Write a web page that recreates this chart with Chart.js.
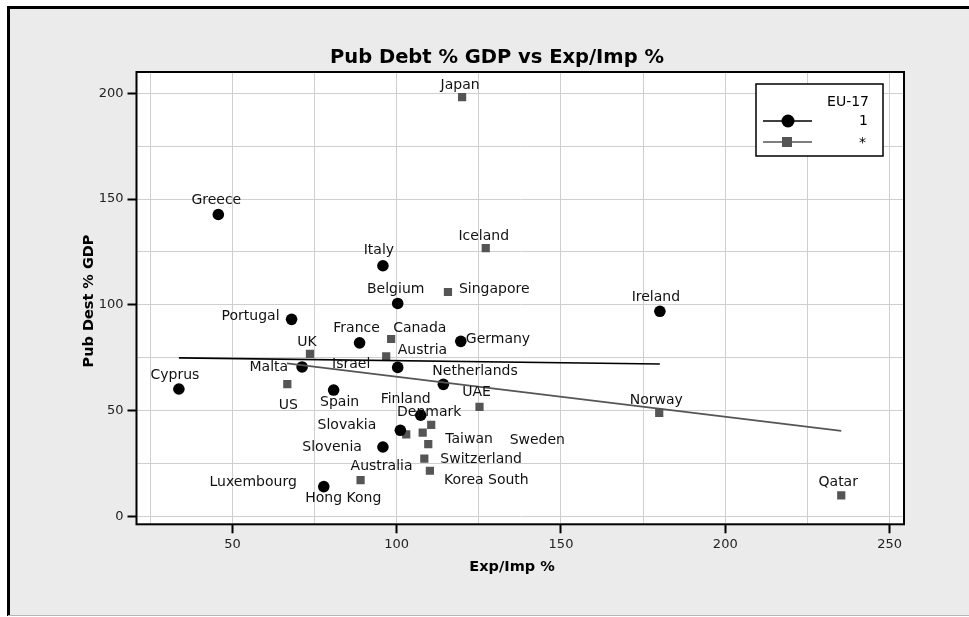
<!DOCTYPE html>
<html>
<head>
<meta charset="utf-8">
<script src="https://cdn.jsdelivr.net/npm/chart.js@4/dist/chart.umd.min.js"></script>
<style>
  html, body { margin: 0; padding: 0; background: #ffffff; }
  #wrap { width: 969px; height: 617px; }
</style>
</head>
<body>
<div id="wrap"><canvas id="c" width="969" height="617"></canvas></div>
<script>
// Euro area (EU-17) members: exports/imports % and public debt % of GDP
const euNames   = ['Greece', 'Cyprus', 'Portugal', 'Italy', 'Belgium', 'Ireland', 'France', 'Germany',
                   'Malta', 'Austria', 'Netherlands', 'Spain', 'Finland', 'Slovakia', 'Slovenia', 'Luxembourg'];
const euExpImp  = [45.7, 33.7, 68.0, 95.8, 100.3, 180.1, 88.7, 119.5, 71.2, 100.3, 114.2, 80.8, 107.3, 101.1, 95.8, 77.8];
const euDebt    = [142.7, 60.3, 93.2, 118.5, 100.7, 97.0, 82.1, 82.8, 70.7, 70.5, 62.5, 59.8, 47.9, 40.8, 32.9, 14.2];

// Other economies
const otherNames  = ['Japan', 'Iceland', 'Singapore', 'UK', 'US', 'Canada', 'Israel', 'UAE', 'Norway', 'Qatar',
                     'Denmark', 'Sweden', 'Taiwan', 'Hong Kong', 'Switzerland', 'Korea South', 'Australia'];
const otherExpImp = [119.9, 127.1, 115.6, 73.6, 66.7, 98.3, 96.8, 125.2, 179.9, 235.3,
                     110.5, 107.9, 109.6, 102.9, 108.4, 110.1, 89.0];
const otherDebt   = [198.1, 126.8, 106.1, 76.9, 62.6, 83.9, 75.7, 51.9, 49.0, 10.1,
                     43.4, 39.7, 34.3, 38.9, 27.4, 21.7, 17.3];

// Linear fit lines, one per group (end points)
const euFitX    = [33.7, 180.1];
const euFitY    = [75.0, 72.1];
const otherFitX = [66.6, 235.3];
const otherFitY = [72.4, 40.5];

// Grid positions and the ones that carry a label
const xGridValues = [25, 50, 75, 100, 125, 150, 175, 200, 225, 250];
const yGridValues = [0, 25, 50, 75, 100, 125, 150, 175, 200];
const xTickLabels = [50, 100, 150, 200, 250];
const yTickLabels = [0, 50, 100, 150, 200];

// Where each country name sits relative to its marker: [dx, dy, align]
const labelPlacement = {
  'Greece': [-2, -14, 'center'], 'Cyprus': [-4, -14, 'center'], 'Portugal': [-12, -3, 'right'],
  'Italy': [-4, -15, 'center'], 'Belgium': [-2, -14, 'center'], 'Ireland': [-4, -14, 'center'],
  'France': [-3, -14, 'center'], 'Germany': [5, -2, 'left'], 'Malta': [-14, 0, 'right'],
  'Austria': [0, -17, 'left'], 'Netherlands': [-11, -13, 'left'], 'Spain': [6, 12, 'center'],
  'Finland': [-15, -16, 'center'], 'Slovakia': [-24, -5, 'right'], 'Slovenia': [-21, 0, 'right'],
  'Luxembourg': [-27, -4, 'right'],
  'Japan': [-2, -12, 'center'], 'Iceland': [-2, -12, 'center'], 'Singapore': [11, -3, 'left'],
  'UK': [-3, -11, 'center'], 'US': [1, 21, 'center'], 'Canada': [2, -11, 'left'],
  'Israel': [-35, 8, 'center'], 'UAE': [-3, -14, 'center'], 'Norway': [-3, -13, 'center'],
  'Qatar': [-3, -13, 'center'], 'Denmark': [-2, -12, 'center'], 'Sweden': [87, 8, 'left'],
  'Taiwan': [17, -5, 'left'], 'Hong Kong': [-63, 64, 'center'], 'Switzerland': [16, 1, 'left'],
  'Korea South': [14, 10, 'left'], 'Australia': [21, -14, 'center']
};

const toPoints = (xs, ys) => xs.map((x, i) => ({ x: x, y: ys[i] }));

const pageBackground = {
  id: 'pageBackground',
  beforeDraw(chart) {
    const ctx = chart.ctx, a = chart.chartArea;
    ctx.save();
    ctx.fillStyle = '#ffffff';
    ctx.fillRect(0, 0, chart.width, chart.height);
    ctx.fillStyle = '#ebebeb';
    ctx.fillRect(8, 7, chart.width - 8, chart.height - 8);
    ctx.fillStyle = '#000000';
    ctx.fillRect(8, 6, chart.width - 8, 3);
    ctx.fillRect(7, 6, 3, chart.height - 7);
    ctx.fillStyle = '#b4b4b4';
    ctx.fillRect(8, chart.height - 2, chart.width - 8, 1);
    ctx.fillStyle = '#ffffff';
    ctx.fillRect(a.left, a.top, a.right - a.left, a.bottom - a.top);
    ctx.restore();
  }
};

const decorations = {
  id: 'decorations',
  afterDatasetsDraw(chart) {
    const ctx = chart.ctx;
    ctx.save();
    ctx.font = '14px "DejaVu Sans", sans-serif';
    ctx.fillStyle = '#111111';
    ctx.textBaseline = 'middle';
    const groups = [[2, euNames], [3, otherNames]];
    groups.forEach(([dsIndex, names]) => {
      const meta = chart.getDatasetMeta(dsIndex);
      meta.data.forEach((el, i) => {
        const p = labelPlacement[names[i]] || [0, -13, 'center'];
        ctx.textAlign = p[2];
        ctx.fillText(names[i], el.x + p[0], el.y + p[1]);
      });
    });
    ctx.restore();
  },
  afterDraw(chart) {
    const ctx = chart.ctx, a = chart.chartArea;
    ctx.save();
    // plot frame
    ctx.strokeStyle = '#000000';
    ctx.lineWidth = 2;
    ctx.strokeRect(a.left, a.top, a.right - a.left, a.bottom - a.top);

    // chart title and axis titles
    ctx.fillStyle = '#000000';
    ctx.textAlign = 'center';
    ctx.textBaseline = 'middle';
    ctx.font = 'bold 19.5px "DejaVu Sans", sans-serif';
    ctx.fillText('Pub Debt % GDP vs Exp/Imp %', 497, 58);
    ctx.font = 'bold 14.5px "DejaVu Sans", sans-serif';
    ctx.fillText('Exp/Imp %', 512, 567);
    ctx.save();
    ctx.translate(89, 301);
    ctx.rotate(-Math.PI / 2);
    ctx.fillText('Pub Dest % GDP', 0, 0);
    ctx.restore();

    // legend box
    const lx = 756, ly = 84, lw = 127, lh = 72;
    ctx.fillStyle = '#ffffff';
    ctx.fillRect(lx, ly, lw, lh);
    ctx.strokeStyle = '#000000';
    ctx.lineWidth = 1.5;
    ctx.strokeRect(lx, ly, lw, lh);
    ctx.fillStyle = '#000000';
    ctx.textAlign = 'right';
    ctx.font = '14px "DejaVu Sans", sans-serif';
    ctx.fillText('EU-17', 869, 102);
    ctx.fillText('1', 868, 121);
    ctx.fillText('*', 866, 143);
    ctx.lineWidth = 1.5;
    ctx.beginPath();
    ctx.moveTo(763, 121); ctx.lineTo(812, 121);
    ctx.stroke();
    ctx.beginPath();
    ctx.arc(788, 121, 6.5, 0, Math.PI * 2);
    ctx.fill();
    ctx.strokeStyle = '#555555';
    ctx.beginPath();
    ctx.moveTo(763, 142); ctx.lineTo(812, 142);
    ctx.stroke();
    ctx.fillStyle = '#555555';
    ctx.fillRect(782, 137, 10, 10);
    ctx.restore();
  }
};

const isLabelled = (list, v) => list.some(t => Math.abs(t - v) < 1e-6);

new Chart(document.getElementById('c'), {
  type: 'scatter',
  data: {
    datasets: [
      {
        label: 'EU-17 fit',
        data: toPoints(euFitX, euFitY),
        showLine: true, borderColor: '#000000', borderWidth: 1.6,
        pointRadius: 0, fill: false
      },
      {
        label: 'Other fit',
        data: toPoints(otherFitX, otherFitY),
        showLine: true, borderColor: '#555555', borderWidth: 1.6,
        pointRadius: 0, fill: false
      },
      {
        label: '1',
        data: toPoints(euExpImp, euDebt),
        pointStyle: 'circle', pointRadius: 5.8,
        backgroundColor: '#000000', borderColor: '#000000', borderWidth: 0
      },
      {
        label: '*',
        data: toPoints(otherExpImp, otherDebt),
        pointStyle: 'rect', pointRadius: 5.8,
        backgroundColor: '#555555', borderColor: '#555555', borderWidth: 0
      }
    ]
  },
  options: {
    responsive: false,
    animation: false,
    events: [],
    layout: { padding: { top: 72, right: 65, bottom: 0, left: 0 } },
    plugins: { legend: { display: false }, tooltip: { enabled: false }, title: { display: false } },
    scales: {
      x: {
        type: 'linear', min: 20.8, max: 254.4,
        afterBuildTicks(s) { s.ticks = xGridValues.map(v => ({ value: v })); },
        afterFit(s) { s.height = 92.7; },
        border: { display: false },
        grid: {
          color: '#cfcfcf', lineWidth: 1,
          drawTicks: true, tickLength: 9, tickWidth: 2,
          tickColor: c => (c.tick && isLabelled(xTickLabels, c.tick.value)) ? '#000000' : 'rgba(0,0,0,0)'
        },
        ticks: {
          autoSkip: false, maxRotation: 0, padding: 4,
          color: '#222222', font: { family: '"DejaVu Sans", sans-serif', size: 13 },
          callback: v => isLabelled(xTickLabels, v) ? String(Math.round(v)) : ''
        }
      },
      y: {
        type: 'linear', min: -3.6, max: 210,
        afterBuildTicks(s) { s.ticks = yGridValues.map(v => ({ value: v })); },
        afterFit(s) { s.width = 136.5; },
        border: { display: false },
        grid: {
          color: '#cfcfcf', lineWidth: 1,
          drawTicks: true, tickLength: 9, tickWidth: 2,
          tickColor: c => (c.tick && isLabelled(yTickLabels, c.tick.value)) ? '#000000' : 'rgba(0,0,0,0)'
        },
        ticks: {
          autoSkip: false, padding: 4,
          color: '#222222', font: { family: '"DejaVu Sans", sans-serif', size: 13 },
          callback: v => isLabelled(yTickLabels, v) ? String(Math.round(v)) : ''
        }
      }
    }
  },
  plugins: [pageBackground, decorations]
});
</script>
</body>
</html>
